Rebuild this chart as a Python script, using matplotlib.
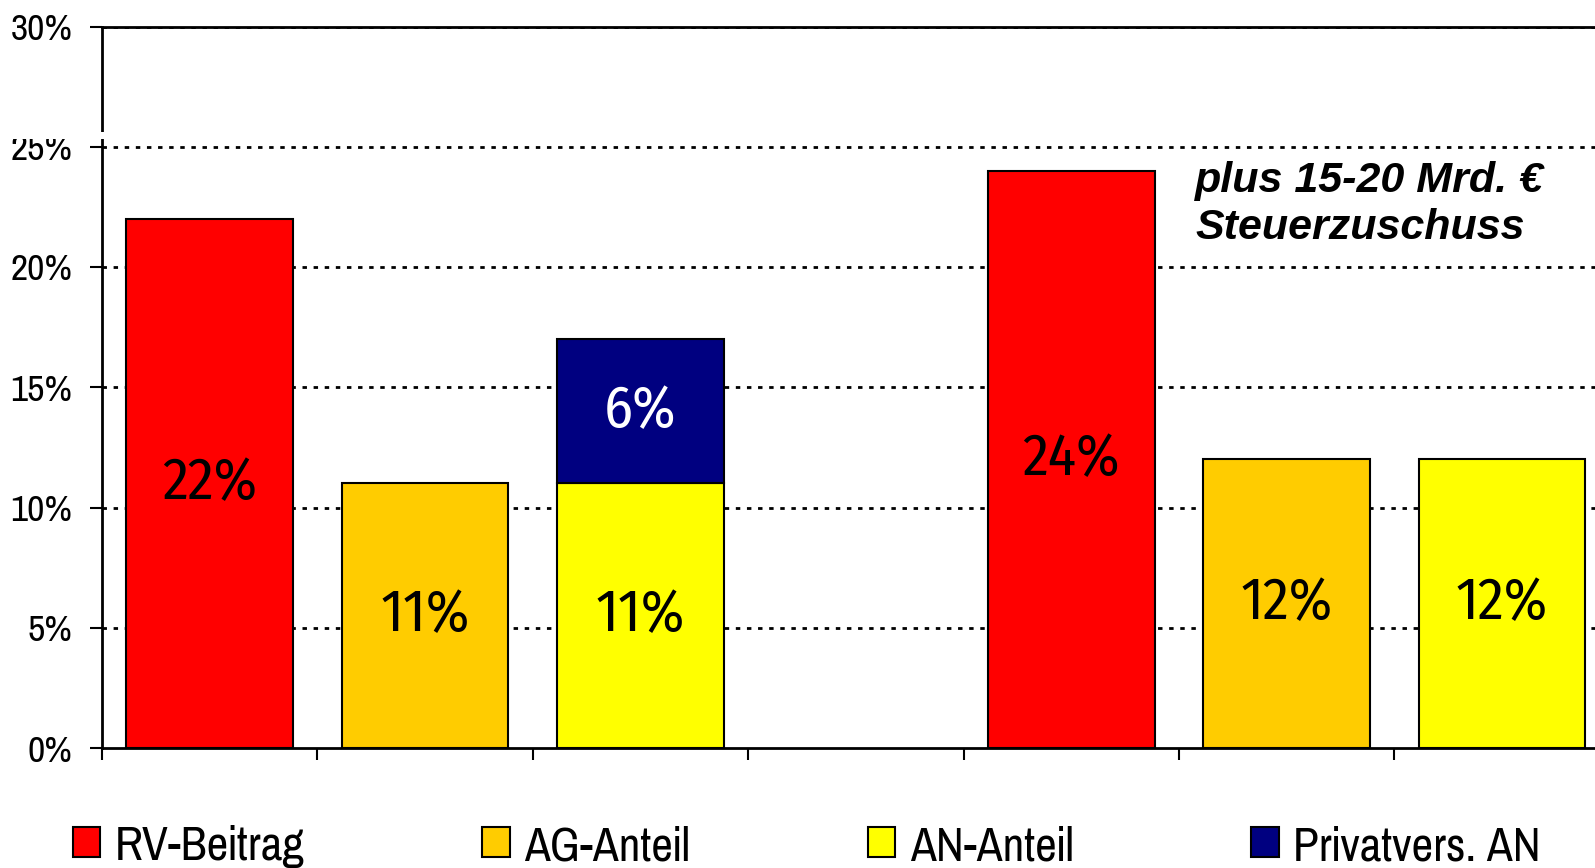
import matplotlib.pyplot as plt
from matplotlib import font_manager as fm
from matplotlib.patches import Rectangle, Patch

# data
series = ["RV-Beitrag", "AG-Anteil", "AN-Anteil", "Privatvers. AN"]
colors = ["#FF0000", "#FFCC00", "#FFFF00", "#000080"]
rv_pos, rv_vals = [0, 4], [22, 24]
ag_pos, ag_vals = [1, 5], [11, 12]
an_pos, an_vals = [2, 6], [11, 12]
priv_pos, priv_vals = [2], [6]
y_ticks = [0, 5, 10, 15, 20, 25, 30]
note = "plus 15-20 Mrd. €\nSteuerzuschuss"

installed = {f.name for f in fm.fontManager.ttflist}


def pick(*names):
    return [n for n in names if n in installed] + ["DejaVu Sans"]


narrow = pick("Pragati Narrow", "Roboto Condensed", "Archivo Narrow", "PT Sans Narrow")
labfont = pick("Fira Sans Condensed", "Roboto Condensed", "Archivo Narrow")
plt.rcParams["font.family"] = narrow

W, H = 1595, 868
slot = 215.4
x0, y0, y1 = 102.0, 748.0, 26.5

fig = plt.figure(figsize=(W / 100, H / 100), dpi=100)
ax = fig.add_axes([x0 / W, (H - y0) / H, 1.0, (y0 - y1) / H])
ax.set_xlim(0, W / slot)
ax.set_ylim(0, 30)

bw = 0.774
kw = dict(width=bw, edgecolor="black", linewidth=1.5, zorder=3)
ax.bar([p + 0.5 for p in rv_pos], rv_vals, color=colors[0], **kw)
ax.bar([p + 0.5 for p in ag_pos], ag_vals, color=colors[1], **kw)
ax.bar([p + 0.5 for p in an_pos], an_vals, color=colors[2], **kw)
base = [an_vals[an_pos.index(p)] for p in priv_pos]
ax.bar([p + 0.5 for p in priv_pos], priv_vals, bottom=base, color=colors[3], **kw)

lab = dict(ha="center", va="center", fontsize=42, family=labfont, zorder=5)
for p, v in zip(rv_pos, rv_vals):
    ax.text(p + 0.5, v / 2, f"{v}%", **lab)
for p, v in zip(ag_pos, ag_vals):
    ax.text(p + 0.5, v / 2, f"{v}%", **lab)
for p, v in zip(an_pos, an_vals):
    ax.text(p + 0.5, v / 2, f"{v}%", **lab)
for p, v, b in zip(priv_pos, priv_vals, base):
    ax.text(p + 0.5, b + v / 2, f"{v}%", color="white", **lab)

ax.text((1195 - x0) / slot, 22.6, note, fontsize=31, fontweight="bold", fontstyle="italic",
        family=["Liberation Sans", "DejaVu Sans"], va="center", ha="left",
        linespacing=1.22, zorder=6)

# grid
for y in y_ticks[1:]:
    ax.axhline(y, color="black", linewidth=2, linestyle=(0, (1.6, 2.4)), zorder=1)

ax.set_yticks(y_ticks)
ax.set_yticklabels([f"{v}%" for v in y_ticks])
ax.set_xticks(range(0, 8))
ax.set_xticklabels([])
ax.tick_params(axis="y", direction="out", length=8.5, width=1.5, pad=13, labelsize=29.5)
ax.tick_params(axis="x", direction="out", length=8.5, width=1.5)
for s in ["left", "bottom", "top"]:
    ax.spines[s].set_linewidth(2)
ax.spines["right"].set_visible(False)

# axis break
fig.add_artist(Rectangle((0, (H - 138.5) / H), 108 / W, 7 / H,
                         transform=fig.transFigure, facecolor="white",
                         edgecolor="none", zorder=10))

handles = [Patch(facecolor=c, edgecolor="black", linewidth=1.5) for c in colors]
fig.legend(handles, series, loc="center left", bbox_to_anchor=(73 / W, 21 / H),
           ncol=4, frameon=False, fontsize=37, handlelength=0.53, handleheight=0.53,
           handletextpad=0.29, columnspacing=3.45, borderaxespad=0, borderpad=0)

fig.savefig("out.png", dpi=100)
